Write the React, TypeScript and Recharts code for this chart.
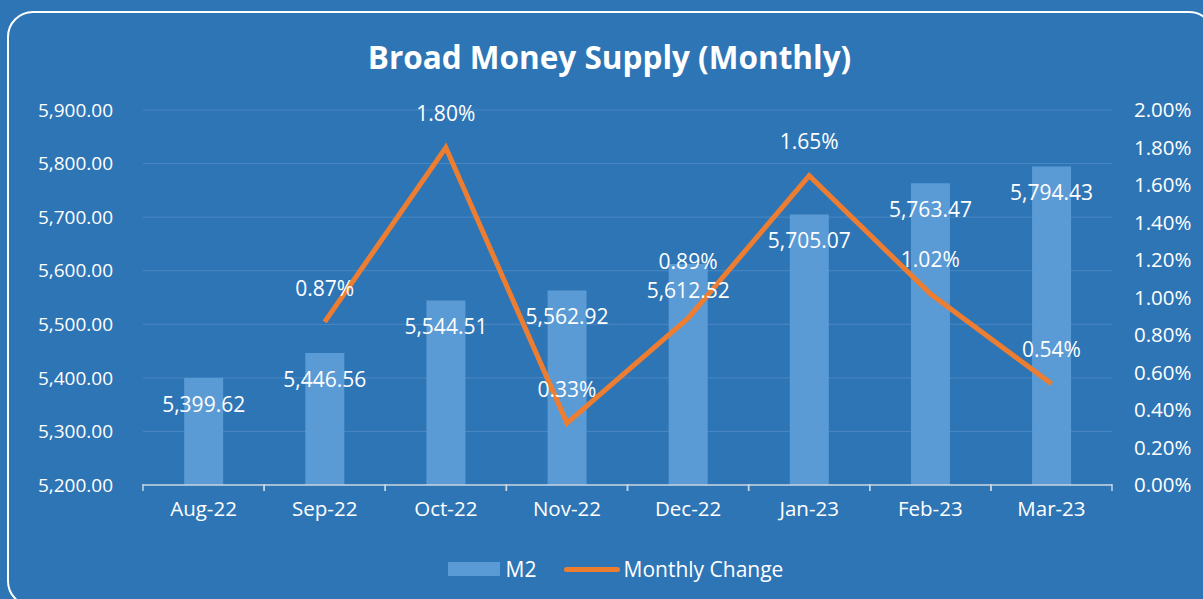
import {
    ComposedChart,
    Bar,
    Line,
    XAxis,
    YAxis,
    CartesianGrid,
    LabelList,
} from "recharts";

const months = ["Aug-22", "Sep-22", "Oct-22", "Nov-22", "Dec-22", "Jan-23", "Feb-23", "Mar-23"];
const m2Values = [5399.62, 5446.56, 5544.51, 5562.92, 5612.52, 5705.07, 5763.47, 5794.43];
const monthlyChange = [null, 0.87, 1.8, 0.33, 0.89, 1.65, 1.02, 0.54];
const leftTicks = [5200, 5300, 5400, 5500, 5600, 5700, 5800, 5900];
const rightTicks = [0, 0.2, 0.4, 0.6, 0.8, 1.0, 1.2, 1.4, 1.6, 1.8, 2.0];

const BG = "#2E75B6";
const BAR = "#5B9BD5";
const LINE = "#ED7D31";
const FONT = "'Open Sans', sans-serif";

const W = 1203;
const H = 599;
const PLOT_LEFT = 143;
const PLOT_RIGHT = 1112;
const BAND = (PLOT_RIGHT - PLOT_LEFT) / months.length;

const data = months.map((m, i) => ({
    month: m,
    m2: m2Values[i],
    change: monthlyChange[i],
}));

const fmtNum = (v: number) =>
    v.toLocaleString("en-US", { minimumFractionDigits: 2, maximumFractionDigits: 2 });

// x tick: label plus boundary tick marks like Excel
const XTick = (props: any) => {
    const { x, y, payload } = props;
    return (
        <g>
            <line x1={x - BAND / 2} x2={x - BAND / 2} y1={y - 9} y2={y - 2} stroke="#C8D4E0" strokeWidth={1.5} />
            <line x1={x + BAND / 2} x2={x + BAND / 2} y1={y - 9} y2={y - 2} stroke="#C8D4E0" strokeWidth={1.5} />
            <text x={x} y={y + 23} textAnchor="middle" fill="#fff" fontSize={20.5} fontFamily={FONT}>
                {payload.value}
            </text>
        </g>
    );
};

const BarLabel = (props: any) => {
    const { x, y, width, value } = props;
    return (
        <text x={x + width / 2} y={y + 28} textAnchor="middle" dominantBaseline="middle" fill="#fff" fontSize={21} fontFamily={FONT}>
            {fmtNum(value)}
        </text>
    );
};

const LineLabel = (props: any) => {
    const { x, y, value, index } = props;
    if (value == null) return null;
    // Dec label was pushed up above the bar label in the original
    const lift = index === 4 ? 55 : 32;
    return (
        <text x={x} y={y - lift} textAnchor="middle" dominantBaseline="middle" fill="#fff" fontSize={21} fontFamily={FONT}>
            {value.toFixed(2)}%
        </text>
    );
};

const LegendBox = () => (
    <div style={{ position: "absolute", top: 555, left: 14, width: W, display: "flex", justifyContent: "center", alignItems: "center", color: "#fff", fontFamily: FONT, fontSize: 21 }}>
        <span style={{ display: "inline-block", width: 52, height: 14, background: BAR, marginRight: 6 }} />
        <span style={{ marginRight: 27 }}>M2</span>
        <span style={{ display: "inline-block", width: 56, height: 5, borderRadius: 3, background: LINE, marginRight: 4 }} />
        <span>Monthly Change</span>
    </div>
);

export default function App() {
    return (
        <div style={{ position: "fixed", left: 0, top: 0, width: W, height: H, background: BG, overflow: "hidden" }}>
            <div
                style={{
                    position: "absolute",
                    left: 7,
                    top: 11,
                    width: 1204,
                    height: 592,
                    border: "2px solid #fff",
                    borderRadius: 26,
                }}
            />
            <div
                style={{
                    position: "absolute",
                    top: 35,
                    left: 8,
                    width: W,
                    textAlign: "center",
                    color: "#fff",
                    fontFamily: FONT,
                    fontWeight: 700,
                    fontSize: 31.5,
                }}
            >
                Broad Money Supply (Monthly)
            </div>
            <div style={{ position: "absolute", left: 0, top: 0 }}>
                <ComposedChart
                    width={W}
                    height={H}
                    data={data}
                    margin={{ top: 110, right: 0, bottom: 64, left: 0 }}
                    barCategoryGap="34%"
                >
                    <CartesianGrid vertical={false} stroke="#4A88C2" strokeWidth={1} yAxisId="left" />
                    <XAxis
                        dataKey="month"
                        axisLine={{ stroke: "#C8D4E0", strokeWidth: 1.5 }}
                        tickLine={false}
                        tick={<XTick />}
                        interval={0}
                        height={50}
                    />
                    <YAxis
                        yAxisId="left"
                        domain={[5200, 5900]}
                        ticks={leftTicks}
                        width={PLOT_LEFT}
                        axisLine={false}
                        tickLine={false}
                        tickSize={0}
                        tickMargin={30}
                        tickFormatter={fmtNum}
                        tick={{ fill: "#fff", fontSize: 19, fontFamily: FONT }}
                        allowDataOverflow
                    />
                    <YAxis
                        yAxisId="right"
                        orientation="right"
                        domain={[0, 2]}
                        ticks={rightTicks}
                        width={W - PLOT_RIGHT}
                        axisLine={false}
                        tickLine={false}
                        tickSize={0}
                        tickMargin={22}
                        tickFormatter={(v: number) => `${v.toFixed(2)}%`}
                        tick={{ fill: "#fff", fontSize: 20.5, fontFamily: FONT, textAnchor: "start" }}
                    />
                    <Bar yAxisId="left" dataKey="m2" fill={BAR} isAnimationActive={false}>
                        <LabelList dataKey="m2" content={<BarLabel />} />
                    </Bar>
                    <Line
                        yAxisId="right"
                        dataKey="change"
                        stroke={LINE}
                        strokeWidth={5}
                        dot={false}
                        activeDot={false}
                        type="linear"
                        isAnimationActive={false}
                    >
                        <LabelList dataKey="change" content={<LineLabel />} />
                    </Line>
                </ComposedChart>
            </div>
            <LegendBox />
        </div>
    );
}
